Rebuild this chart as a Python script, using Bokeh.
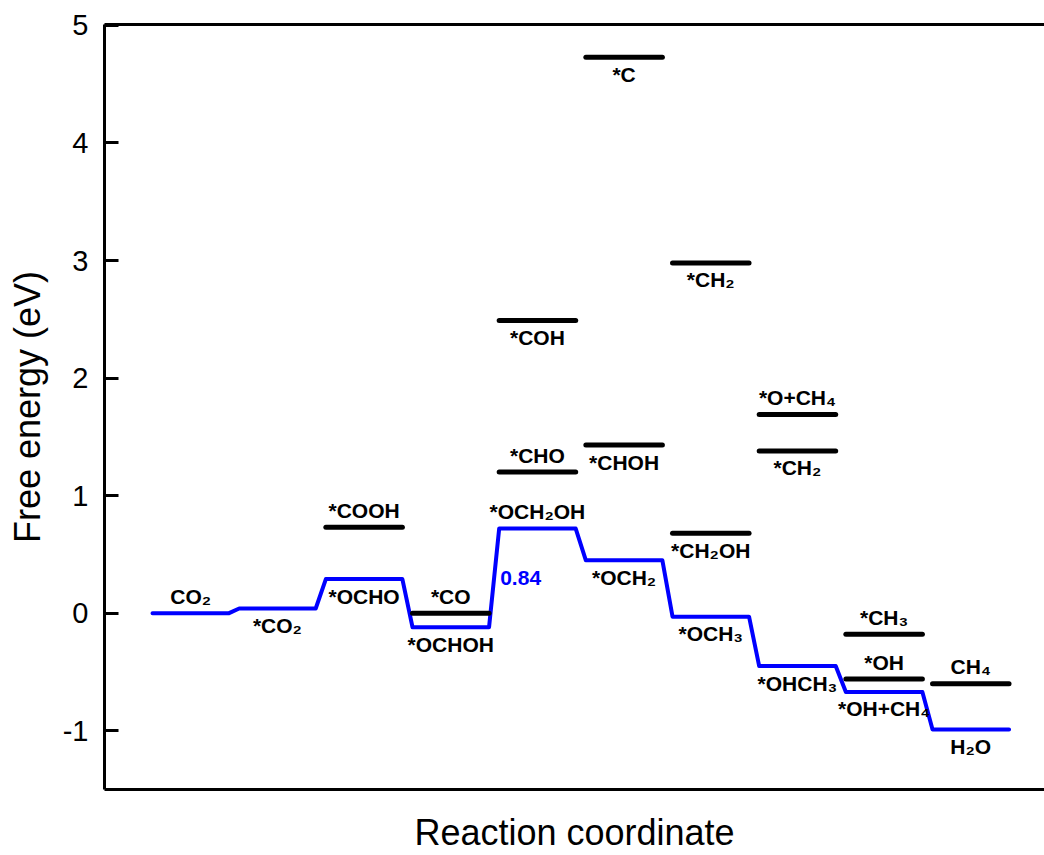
from bokeh.plotting import figure
from bokeh.models import LinearAxis, FixedTicker, ColumnDataSource, Range1d
from bokeh.embed import file_html
from bokeh.resources import INLINE
from bokeh.core.properties import value

# ---------------- data ----------------
main_steps = ["CO₂", "*CO₂", "*OCHO", "*OCHOH", "*OCH₂OH", "*OCH₂",
              "*OCH₃", "*OHCH₃", "*OH+CH₄", "H₂O"]
main_energy = [0.00, 0.04, 0.29, -0.12, 0.72, 0.45, -0.03, -0.45, -0.67, -0.99]

side_steps = ["*COOH", "*CO", "*COH", "*CHO", "*C", "*CHOH", "*CH₂", "*CH₂OH",
              "*O+CH₄", "*CH₂", "*CH₃", "*OH", "CH₄"]
side_energy = [0.73, 0.00, 2.49, 1.20, 4.73, 1.43, 2.98, 0.68, 1.69, 1.38,
               -0.18, -0.56, -0.60]
side_step_index = [2, 3, 4, 4, 5, 5, 6, 6, 7, 7, 8, 8, 9]

barrier_text = "0.84"
barrier_from, barrier_to = 3, 4   # limiting step: *OCHOH -> *OCH2OH

y_ticks = [-1, 0, 1, 2, 3, 4, 5]
y_tick_labels = ["-1", "0", "1", "2", "3", "4", "5"]

# ---------------- style ----------------
LEVEL_W = 0.883          # width of a level (step pitch = 1)
BLUE = "#0000FF"
FONT = "Liberation Sans"
main_above = [True, False, False, False, True, False, False, False, False, False]
side_above = [True, True, False, True, False, False, False, False, True, False,
              True, True, True]
OFF = 17

p = figure(width=1044, height=855, output_backend="svg", toolbar_location=None,
           x_range=Range1d(-0.554, 10.292), y_range=Range1d(-1.50, 5.008),
           min_border_left=104, min_border_top=24, min_border_bottom=65,
           min_border_right=0)
p.outline_line_color = None
p.xgrid.grid_line_color = None
p.ygrid.grid_line_color = None
p.background_fill_color = "white"
p.border_fill_color = "white"

# y axis
ya = p.yaxis[0]
ya.ticker = FixedTicker(ticks=y_ticks)
ya.major_label_overrides = {t: s for t, s in zip(y_ticks, y_tick_labels)}
ya.minor_tick_line_color = None
ya.major_tick_in = 14
ya.major_tick_out = 0
ya.major_tick_line_width = 3
ya.axis_line_width = 3
ya.major_label_text_font = FONT
ya.major_label_text_font_size = "29px"
ya.major_label_text_color = "black"
ya.major_label_standoff = 16
ya.axis_label = "Free energy (eV)"
ya.axis_label_text_font = FONT
ya.axis_label_text_font_size = "36px"
ya.axis_label_text_font_style = "normal"
ya.axis_label_text_color = "black"
ya.axis_label_standoff = 12

# x axis
xa = p.xaxis[0]
xa.ticker = FixedTicker(ticks=[])
xa.major_tick_line_color = None
xa.minor_tick_line_color = None
xa.major_tick_out = 0
xa.major_label_text_font_size = "0px"
xa.axis_line_width = 3
xa.axis_label = "Reaction coordinate"
xa.axis_label_text_font = FONT
xa.axis_label_text_font_size = "36px"
xa.axis_label_text_font_style = "normal"
xa.axis_label_text_color = "black"
xa.axis_label_standoff = 22

# top frame line
top = LinearAxis(ticker=FixedTicker(ticks=[]), axis_line_width=3,
                 major_tick_line_color=None, minor_tick_line_color=None,
                 major_tick_out=0, major_label_text_font_size="0px")
p.add_layout(top, "above")

# ---------------- main (blue) pathway ----------------
xs, ys = [], []
for i, e in enumerate(main_energy):
    xs += [i, i + LEVEL_W]
    ys += [e, e]
p.line(xs, ys, line_color=BLUE, line_width=4, line_cap="round", line_join="round")

# ---------------- side (black) levels ----------------
side_src = ColumnDataSource(dict(
    x0=[i for i in side_step_index],
    x1=[i + LEVEL_W for i in side_step_index],
    y=side_energy))
p.segment(x0="x0", y0="y", x1="x1", y1="y", source=side_src,
          line_color="black", line_width=5, line_cap="round")

# ---------------- labels ----------------
def label_source(idx, energies, texts, above):
    return ColumnDataSource(dict(
        x=[i + LEVEL_W / 2 for i in idx],
        y=energies,
        t=texts,
        dy=[-OFF if a else OFF for a in above]))

main_lab = label_source(range(len(main_energy)), main_energy, main_steps, main_above)
side_lab = label_source(side_step_index, side_energy, side_steps, side_above)

for src in (main_lab, side_lab):
    p.text(x="x", y="y", text="t", y_offset="dy", source=src,
           text_font=value(FONT), text_font_style="bold", text_font_size="21px",
           text_align="center", text_baseline="middle", text_color="black")

# barrier annotation
p.text(x=[barrier_to], y=[(main_energy[barrier_from] + main_energy[barrier_to]) / 2],
       text=[barrier_text], x_offset=1, text_font=value(FONT), text_font_style="bold",
       text_font_size="21px", text_align="left", text_baseline="middle",
       text_color=BLUE)

open("out.html", "w").write(file_html(p, INLINE))
